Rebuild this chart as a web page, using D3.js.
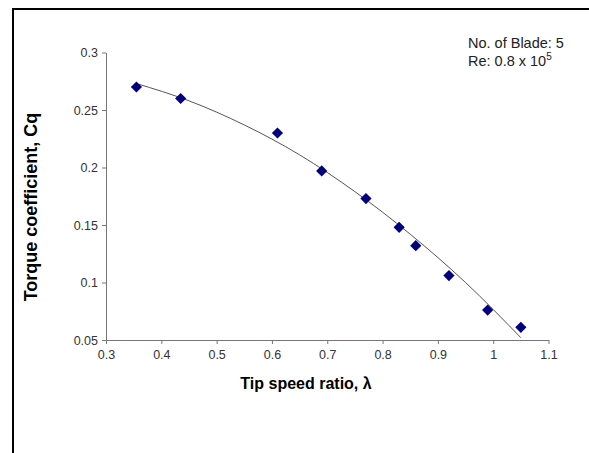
<!DOCTYPE html>
<html>
<meta charset="UTF-8">
<head>
<style>
  body { margin: 0; background: #fff; font-family: "Liberation Sans", Arial, sans-serif; }
  .tick text { font-size: 12.5px; fill: #333; }
  .tick line, .domain { stroke: #777; }
</style>
</head>
<body>
<div id="chart"></div>
<script src="https://d3js.org/d3.v7.min.js"></script>
<script>
// measured points
const tsr = [0.355, 0.435, 0.61, 0.69, 0.77, 0.83, 0.86, 0.92, 0.99, 1.05];
const cq = [0.270, 0.260, 0.230, 0.197, 0.173, 0.148, 0.132, 0.106, 0.076, 0.061];
// trendline
const trendX = [0.355, 0.45, 0.55, 0.65, 0.75, 0.85, 0.95, 1.05];
const trendY = [0.273, 0.258, 0.237, 0.211, 0.179, 0.142, 0.100, 0.052];
const xTicks = [0.3, 0.4, 0.5, 0.6, 0.7, 0.8, 0.9, 1, 1.1];
const yTicks = [0.05, 0.1, 0.15, 0.2, 0.25, 0.3];

let W = 589, H = 453;
let svg = d3.select("#chart").append("svg").attr("width", W).attr("height", H);

// outer frame (left and top only)
svg.append("path").attr("d", "M13,453 V9 H589").attr("fill", "none")
   .attr("stroke", "#000").attr("stroke-width", 2);

let x = d3.scaleLinear().domain([0.3, 1.1]).range([106, 548.5]);
let y = d3.scaleLinear().domain([0.05, 0.3]).range([340, 52.5]);

svg.append("g").attr("transform", "translate(0,340)")
  .call(d3.axisBottom(x).tickValues(xTicks).tickSize(4).tickSizeOuter(0).tickPadding(6)
    .tickFormat(d3.format("")));
svg.append("g").attr("transform", "translate(106,0)")
  .call(d3.axisLeft(y).tickValues(yTicks).tickSize(4).tickSizeOuter(0).tickPadding(4)
    .tickFormat(d3.format("")));

// trendline
let line = d3.line().x(d => x(d[0])).y(d => y(d[1])).curve(d3.curveMonotoneX);
svg.append("path").datum(d3.zip(trendX, trendY))
  .attr("d", line).attr("fill", "none").attr("stroke", "#555").attr("stroke-width", 1);

// diamonds
svg.append("g").selectAll("path").data(d3.zip(tsr, cq)).enter().append("path")
  .attr("d", d3.symbol(d3.symbolDiamond2, 80))
  .attr("transform", d => "translate(" + x(d[0]) + "," + y(d[1]) + ")")
  .attr("fill", "#000080");

// labels
svg.append("text").attr("x", 306).attr("y", 389).attr("text-anchor", "middle")
  .style("font-size", "16px").style("font-weight", "bold").text("Tip speed ratio, λ");
svg.append("text").attr("transform", "translate(37,207) rotate(-90)").attr("text-anchor", "middle")
  .style("font-size", "18px").style("font-weight", "bold").text("Torque coefficient, Cq");

let ann = svg.append("text").attr("x", 468).style("font-size", "14.5px").attr("fill", "#222");
ann.append("tspan").attr("x", 468).attr("y", 48).text("No. of Blade: 5");
ann.append("tspan").attr("x", 468).attr("y", 66).text("Re: 0.8 x 10");
ann.append("tspan").attr("dy", -6).style("font-size", "10px").text("5");
</script>
</body>
</html>
